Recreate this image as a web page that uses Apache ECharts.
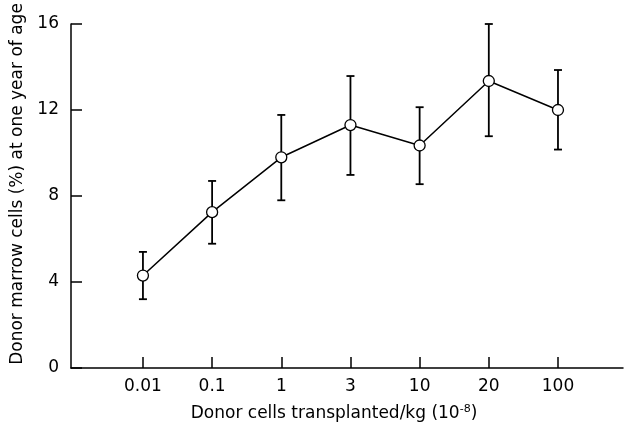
<!DOCTYPE html>
<html><head><meta charset="utf-8">
<script src="https://cdn.jsdelivr.net/npm/echarts@6/dist/echarts.min.js"></script>
<style>html,body{margin:0;padding:0;background:#fff}#c{width:630px;height:431px}</style>
</head><body><div id="c"></div>
<script>
const categories = ['0.01', '0.1', '1', '3', '10', '20', '100'];
const means = [4.3, 7.25, 9.8, 11.3, 10.35, 13.35, 12.0];
const upper = [5.4, 8.7, 11.77, 13.58, 12.13, 16.0, 13.86];
const lower = [3.2, 5.78, 7.8, 8.98, 8.55, 10.78, 10.16];
const yTicks = [0, 4, 8, 12, 16];

const catIdx = categories.map((c, i) => i);
const chart = echarts.init(document.getElementById('c'));
const font = 'DejaVu Sans';
chart.setOption({
  animation: false,
  backgroundColor: '#fff',
  grid: {left: 71, top: 24, right: 7, bottom: 63},
  xAxis: {
    type: 'value', min: -1.04, max: 6.94,
    axisLine: {onZero: false, lineStyle: {color: '#000', width: 1.5}},
    axisTick: {show: true, inside: true, length: 11, lineStyle: {color: '#000', width: 1.5},
      customValues: catIdx},
    axisLabel: {color: '#000', fontFamily: font, fontSize: 17, margin: 10,
      customValues: catIdx, formatter: (v) => categories[Math.round(v)]},
    splitLine: {show: false},
    name: '{n|Donor cells transplanted/kg (10}{s|-8}{n|)}',
    nameLocation: 'middle', nameGap: 36,
    nameTextStyle: {padding: [0, 26, 0, 0],
      rich: {n: {fontFamily: font, fontSize: 17, color: '#000'},
             s: {fontFamily: font, fontSize: 11, color: '#000', verticalAlign: 'top', padding: [0, 0, 9, 0]}}}
  },
  yAxis: {
    type: 'value', min: 0, max: 16, interval: 4,
    axisLine: {show: true, onZero: false, lineStyle: {color: '#000', width: 1.5}},
    axisTick: {show: true, inside: true, length: 11, lineStyle: {color: '#000', width: 1.5}},
    axisLabel: {color: '#000', fontFamily: font, fontSize: 17, margin: 12,
      customValues: yTicks},
    splitLine: {show: false},
    name: 'Donor marrow cells (%) at one year of age',
    nameLocation: 'middle', nameGap: 44,
    nameTextStyle: {color: '#000', fontFamily: font, fontSize: 17, padding: [0, 0, 0, 24]}
  },
  series: [
    {
      type: 'custom',
      data: catIdx.map((i) => [i, lower[i], upper[i]]),
      renderItem: function (params, api) {
        const lo = api.coord([api.value(0), api.value(1)]);
        const hi = api.coord([api.value(0), api.value(2)]);
        const w = 4;
        const st = {stroke: '#000', lineWidth: 1.8};
        return {type: 'group', children: [
          {type: 'line', shape: {x1: lo[0], y1: lo[1], x2: hi[0], y2: hi[1]}, style: st},
          {type: 'line', shape: {x1: lo[0] - w, y1: lo[1], x2: lo[0] + w, y2: lo[1]}, style: st},
          {type: 'line', shape: {x1: hi[0] - w, y1: hi[1], x2: hi[0] + w, y2: hi[1]}, style: st}
        ]};
      },
      encode: {x: 0, y: [1, 2]},
      z: 1
    },
    {
      type: 'line',
      data: catIdx.map((i) => [i, means[i]]),
      symbol: 'circle', symbolSize: 11,
      lineStyle: {color: '#000', width: 1.5},
      itemStyle: {color: '#fff', borderColor: '#000', borderWidth: 1.3},
      z: 3
    }
  ]
});
</script></body></html>
